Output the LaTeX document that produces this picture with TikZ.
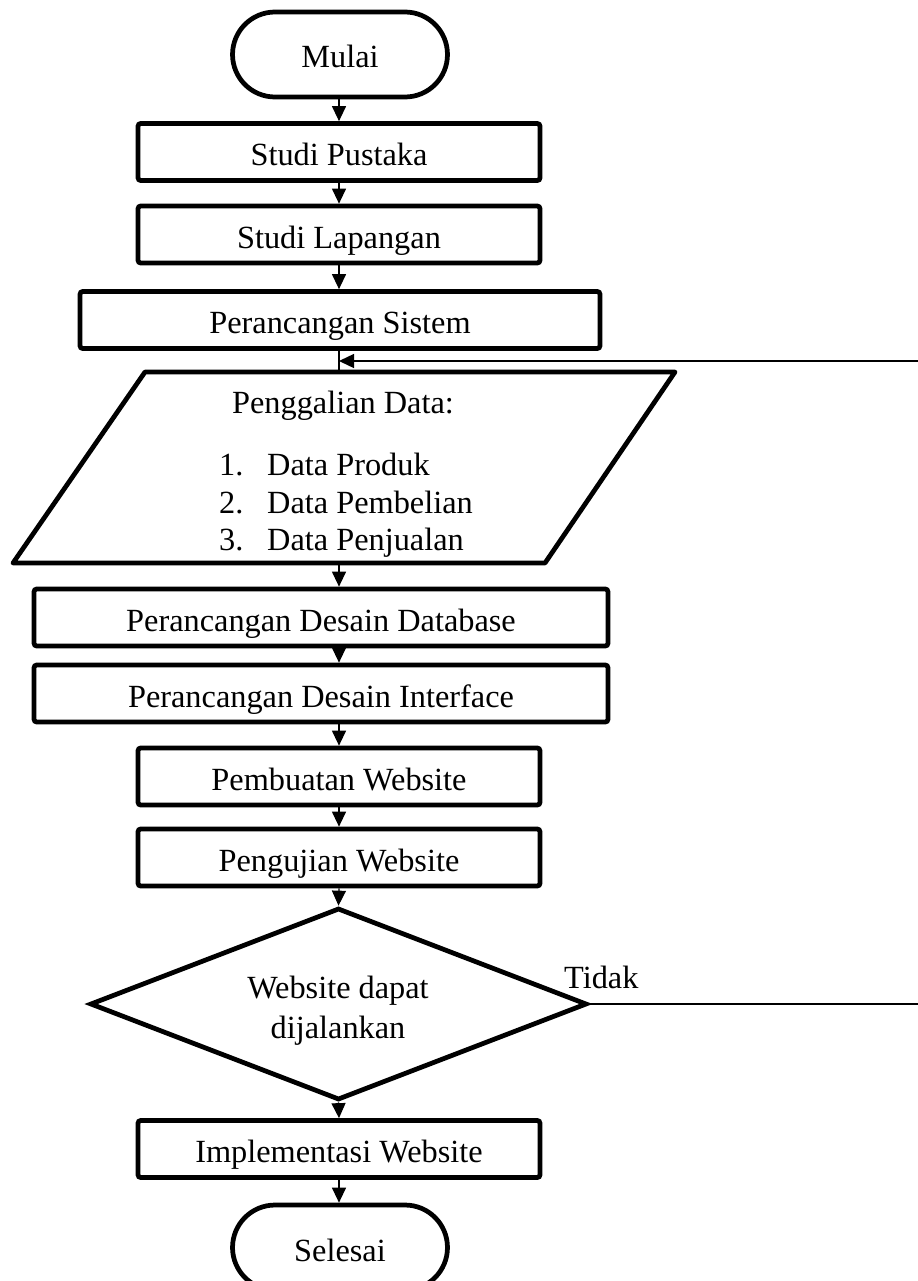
\documentclass[tikz,border=0pt]{standalone}
\usepackage{fontspec}
\setmainfont{Liberation Serif}
\usetikzlibrary{shapes.geometric,arrows.meta}

\begin{document}
\begin{tikzpicture}[x=0.02cm,y=-0.02cm,
	teks/.style={font=\fontsize{18.4}{22}\selectfont},
	proses/.style={teks,draw,line width=2.7pt,rounded corners=1.5pt,minimum height=1.14cm,text height=0.54cm,text depth=0cm},
	terminal/.style={teks,draw,line width=2.7pt,rounded corners=0.85cm,minimum width=4.3cm,minimum height=1.7cm,text height=0.54cm,text depth=0cm},
	panah/.style={-{Triangle[length=0.3cm,width=0.28cm]},line width=0.7pt},
	garis/.style={line width=0.8pt}]
	\useasboundingbox (0,0) rectangle (918,1281);
	\clip (0,0) rectangle (918,1281);
	\coordinate (sumbu) at (339,0);
	% alur utama
	\node[terminal] (mulai) at (340,54.5) {Mulai};
	\node[proses,minimum width=8.04cm] (pustaka) at (339,152) {Studi Pustaka};
	\node[proses,minimum width=8.04cm] (lapangan) at (339,234.5) {Studi Lapangan};
	\node[proses,minimum width=10.4cm] (sistem) at (340,320) {Perancangan Sistem};
	% penggalian data
	\draw[line width=2.7pt,line join=round] (145,372) -- (675,372) -- (545,563) -- (13,563) -- cycle;
	\coordinate (galatas) at (339,372);
	\coordinate (galbawah) at (339,563);
	\node[teks,anchor=base] (galian) at (343,413) {Penggalian Data:};
	\foreach \i/\isi/\y in {1/Data Produk/475,2/Data Pembelian/513,3/Data Penjualan/550}{
		\node[teks,anchor=base west] at (213,\y) {\i.};
		\node[teks,anchor=base west] at (261,\y) {\isi};
	}
	\node[proses,minimum width=11.48cm] (database) at (321,617.5) {Perancangan Desain Database};
	\node[proses,minimum width=11.48cm] (interface) at (321,693.5) {Perancangan Desain Interface};
	\node[proses,minimum width=8.04cm] (pembuatan) at (339,776.5) {Pembuatan Website};
	\node[proses,minimum width=8.04cm] (pengujian) at (339,857.5) {Pengujian Website};
	% keputusan
	\node[draw,diamond,line width=2.7pt,minimum width=9.94cm,minimum height=3.84cm,inner sep=0pt] (tanya) at (338.5,1004) {};
	\node[teks,anchor=base] at (338,998) {Website dapat};
	\node[teks,anchor=base] at (338,1038) {dijalankan};
	\node[teks,anchor=base west] (tidak) at (558,988) {Tidak};
	\node[proses,minimum width=8.04cm] (implementasi) at (339,1149) {Implementasi Website};
	\node[terminal] (selesai) at (340,1247.5) {Selesai};
	% panah
	\draw[panah] (mulai.south -| sumbu) -- (pustaka.north -| sumbu);
	\draw[panah] (pustaka.south -| sumbu) -- (lapangan.north -| sumbu);
	\draw[panah] (lapangan.south -| sumbu) -- (sistem.north -| sumbu);
	\draw[garis] (sistem.south -| sumbu) -- (galatas);
	\draw[panah] (galbawah) -- (database.north -| sumbu);
	\draw[panah] (database.south -| sumbu) -- (interface.north -| sumbu);
	\draw[panah] (interface.south -| sumbu) -- (pembuatan.north -| sumbu);
	\draw[panah] (pembuatan.south -| sumbu) -- (pengujian.north -| sumbu);
	\draw[panah] (pengujian.south -| sumbu) -- (tanya.north);
	\draw[panah] (tanya.south) -- (implementasi.north -| sumbu);
	\draw[panah] (implementasi.south -| sumbu) -- (selesai.north -| sumbu);
	% kembali
	\coordinate (kanan1) at (918,361);
	\coordinate (kanan2) at (918,1004);
	\draw[panah,garis] (kanan1) -- (kanan1 -| sumbu);
	\draw[garis] (tanya.east) -- (kanan2);
\end{tikzpicture}
\end{document}
